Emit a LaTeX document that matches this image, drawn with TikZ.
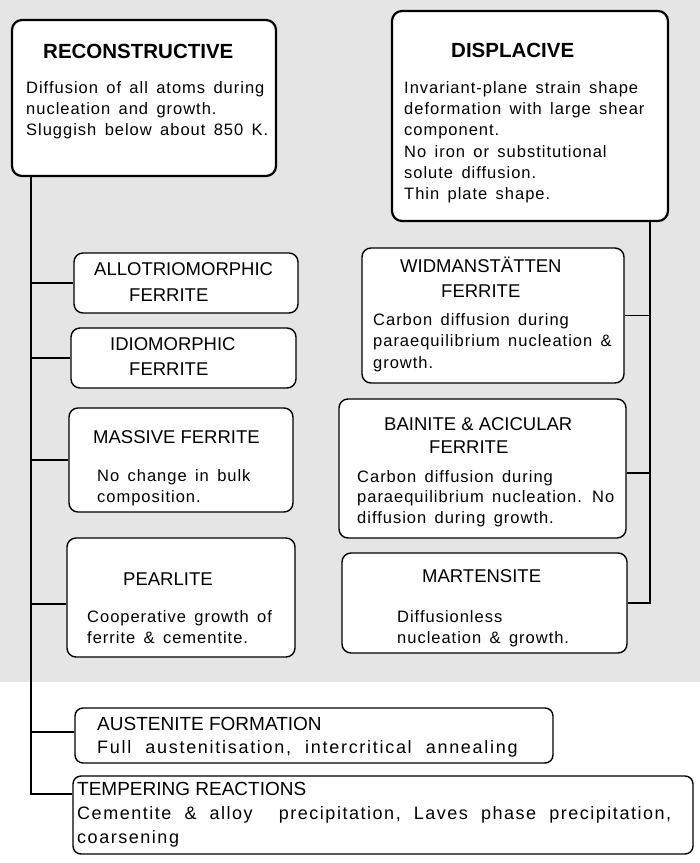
\documentclass[tikz,border=0pt]{standalone}
\usepackage{fontspec}
\setmainfont{Liberation Sans}
\newfontfamily\bodyf{Liberation Sans}[LetterSpace=6,WordSpace=1.5]
\newfontfamily\bodyg{Liberation Sans}[LetterSpace=8.5,WordSpace=2.0]
\newfontfamily\bodyh{Liberation Sans}[LetterSpace=9.5,WordSpace=2.1]
\definecolor{bgcol}{gray}{0.9}
\newcommand\tline[4]{\node[anchor=base west,inner sep=0pt,#3] (#1) at (#2) {#4};}
\tikzset{
  bigbox/.style={draw, fill=white, line width=2.2pt, rounded corners=10pt, inner sep=0pt},
  smallbox/.style={draw, fill=white, line width=1.4pt, rounded corners=9pt, inner sep=0pt},
  conn/.style={line width=1.4pt},
  headtext/.style={font=\bfseries\fontsize{20.5}{24}\selectfont},
  titletext/.style={font=\fontsize{18.5}{22}\selectfont},
  btitletext/.style={font=\fontsize{19}{22}\selectfont},
  bodytext/.style={font=\bodyf\fontsize{16.5}{20}\selectfont},
  bbodytext/.style={font=\bodyg\fontsize{18}{22}\selectfont},
  abodytext/.style={font=\bodyh\fontsize{18}{22}\selectfont},
}
\begin{document}
\begin{tikzpicture}[x=1pt,y=-1pt]
\useasboundingbox (0,0) rectangle (700,863);
\fill[white] (0,0) rectangle (700,863);
\fill[bgcol] (0,0) rectangle (700,682);
\coordinate (ltx) at (31,0);
\coordinate (rtx) at (650,0);
% boxes
\node[bigbox, minimum width=264pt, minimum height=156pt] (recon) at (144,98) {};
\node[bigbox, minimum width=276pt, minimum height=210pt] (displ) at (530,116) {};
\node[smallbox, minimum width=224pt, minimum height=60pt] (allo) at (186,283) {};
\node[smallbox, minimum width=225pt, minimum height=60pt] (idio) at (183.5,358) {};
\node[smallbox, minimum width=224pt, minimum height=104pt] (mass) at (181,460) {};
\node[smallbox, minimum width=228pt, minimum height=119pt] (pearl) at (181,597.5) {};
\node[smallbox, minimum width=262pt, minimum height=135pt] (widm) at (493,315.5) {};
\node[smallbox, minimum width=287pt, minimum height=139pt] (bain) at (482.5,468.5) {};
\node[smallbox, minimum width=285pt, minimum height=100pt] (mart) at (484.5,603) {};
\node[smallbox, rounded corners=8pt, minimum width=478pt, minimum height=55pt] (aust) at (314,735.5) {};
\node[smallbox, rounded corners=8pt, minimum width=620pt, minimum height=78pt] (temp) at (383,815) {};
% connectors
\draw[conn] (recon.south -| ltx) |- ([yshift=21pt]temp.west);
\draw[conn] (allo.west -| ltx) -- (allo.west);
\draw[conn] (idio.west -| ltx) -- (idio.west);
\draw[conn] (mass.west -| ltx) -- (mass.west);
\draw[conn] ([yshift=-6.5pt]pearl.west -| ltx) -- ([yshift=-6.5pt]pearl.west);
\draw[conn] ([yshift=3.5pt]aust.west -| ltx) -- ([yshift=3.5pt]aust.west);
\draw[conn] (displ.south -| rtx) |- (mart.east);
\draw[conn] (widm.east) -- (widm.east -| rtx);
\draw[conn] ([yshift=-4.5pt]bain.east) -- ([yshift=-4.5pt]bain.east -| rtx);
% texts
\tline{rh}{43,58}{headtext}{RECONSTRUCTIVE}
\tline{r1}{26,93}{bodytext}{Diffusion of all atoms during}
\tline{r2}{26,114}{bodytext}{nucleation and growth.}
\tline{r3}{26,135}{bodytext}{Sluggish below about 850 K.}
\tline{dh}{451,57}{headtext}{DISPLACIVE}
\tline{d1}{404,93}{bodytext}{Invariant-plane strain shape}
\tline{d2}{404,114}{bodytext}{deformation with large shear}
\tline{d3}{404,135}{bodytext}{component.}
\tline{d4}{404,157}{bodytext}{No iron or substitutional}
\tline{d5}{404,178}{bodytext}{solute diffusion.}
\tline{d6}{404,199}{bodytext}{Thin plate shape.}
\tline{a1}{94,275}{titletext}{ALLOTRIOMORPHIC}
\tline{a2}{129,301}{titletext}{FERRITE}
\tline{i1}{110,350}{titletext}{IDIOMORPHIC}
\tline{i2}{129,375}{titletext}{FERRITE}
\tline{m1}{93,443}{titletext}{MASSIVE FERRITE}
\tline{m2}{97,481}{bodytext}{No change in bulk}
\tline{m3}{97,502}{bodytext}{composition.}
\tline{p1}{123,585}{titletext}{PEARLITE}
\tline{p2}{87,622}{bodytext}{Cooperative growth of}
\tline{p3}{87,643}{bodytext}{ferrite \& cementite.}
\tline{w1}{400,272}{titletext}{WIDMANSTÄTTEN}
\tline{w2}{441,297}{titletext}{FERRITE}
\tline{w3}{373,325}{bodytext}{Carbon diffusion during}
\tline{w4}{373,346}{bodytext}{paraequilibrium nucleation \&}
\tline{w5}{373,368}{bodytext}{growth.}
\tline{b1}{384,430}{titletext}{BAINITE \& ACICULAR}
\tline{b2}{429,453}{titletext}{FERRITE}
\tline{b3}{357,482}{bodytext}{Carbon diffusion during}
\tline{b4}{357,502}{bodytext}{paraequilibrium nucleation. No}
\tline{b5}{357,523}{bodytext}{diffusion during growth.}
\tline{t1}{422,582}{titletext}{MARTENSITE}
\tline{t2}{397,622}{bodytext}{Diffusionless}
\tline{t3}{397,643}{bodytext}{nucleation \& growth.}
\tline{u1}{97,730}{btitletext}{AUSTENITE FORMATION}
\tline{u2}{97,753}{abodytext}{Full austenitisation, intercritical annealing}
\tline{e1}{77,795}{btitletext}{TEMPERING REACTIONS}
\tline{e2}{77,819}{bbodytext}{Cementite \& alloy \ precipitation, Laves phase precipitation,}
\tline{e3}{77,843}{bbodytext}{coarsening}
\end{tikzpicture}
\end{document}
